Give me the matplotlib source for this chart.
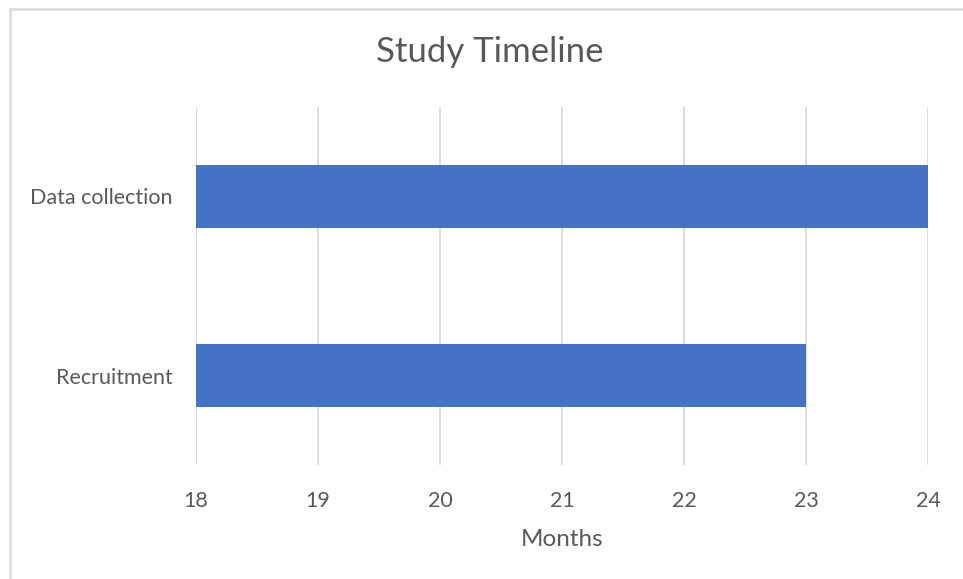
import matplotlib
matplotlib.use("Agg")
import matplotlib.pyplot as plt
from matplotlib.lines import Line2D

tasks = ["Recruitment", "Data collection"]
start_month = [18, 18]
end_month = [23, 24]
x_ticks = [18, 19, 20, 21, 22, 23, 24]

plt.rcParams['font.family'] = ['Lato', 'DejaVu Sans']
text_color = '#595959'
grid_color = '#d9d9d9'
bar_color = '#4472c4'

fig = plt.figure(figsize=(9.63, 5.79), dpi=100)
ax = fig.add_axes([196 / 963, 1 - 465 / 579, (928 - 196) / 963, (465 - 107) / 579])

widths = [e - s for s, e in zip(start_month, end_month)]
ax.barh(range(len(tasks)), widths, left=start_month, height=0.35,
        color=bar_color, zorder=3)

ax.set_xlim(x_ticks[0], x_ticks[-1])
ax.set_ylim(-0.5, len(tasks) - 0.5)
ax.set_xticks(x_ticks)
ax.set_yticks(range(len(tasks)))
ax.set_yticklabels(tasks)
ax.grid(axis='x', color=grid_color, linewidth=1.3, zorder=0)
for s in ax.spines.values():
    s.set_visible(False)
ax.tick_params(length=0, labelsize=15.5, colors=text_color)
ax.tick_params(axis='x', pad=19)
ax.tick_params(axis='y', pad=17)
ax.set_xlabel("Months", fontsize=17.5, color=text_color, labelpad=13)

fig.text(490 / 963, 1 - 52 / 579, "Study Timeline", fontsize=25,
         color=text_color, ha='center', va='center')

# chart frame (only top and left edge visible in the crop)
fig.add_artist(Line2D([10 / 963, 10 / 963], [0, 1 - 9 / 579],
                      transform=fig.transFigure, color=grid_color, linewidth=1.8))
fig.add_artist(Line2D([10 / 963, 1], [1 - 9 / 579, 1 - 9 / 579],
                      transform=fig.transFigure, color=grid_color, linewidth=1.8))

fig.savefig("out.png", dpi=100)
